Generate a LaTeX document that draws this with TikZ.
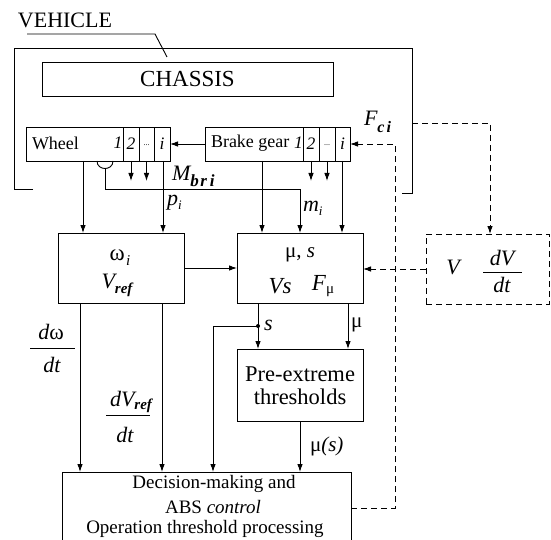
\documentclass[tikz,border=0pt]{standalone}
\usepackage{fontspec}
\setmainfont{Liberation Serif}
\usetikzlibrary{arrows.meta}
\newcommand{\fs}[1]{\fontsize{#1}{#1}\selectfont}
\begin{document}
\begin{tikzpicture}[x=1pt,y=-1pt,
  line width=0.9pt,
  blk/.style={draw, inner sep=0pt, outer sep=0pt, anchor=north west, minimum height=34pt},
  arr/.style={-{Latex[length=8pt,width=5.5pt]}},
  dsh/.style={dash pattern=on 6pt off 4pt},
  lbl/.style={inner sep=0pt, outer sep=0pt},
]
\useasboundingbox (0,0) rectangle (551,540);

% ---- vehicle outline and leader
\node[lbl, font=\fs{22}] (vehtxt) at (65,20) {VEHICLE};
\draw (27,34) -- (155,34) -- (167,57);
\coordinate (vl) at (33,189);
\coordinate (vr) at (402,193);
\draw (vl) -- (14,189) -- (14,48) -- (412,48) -- (412,193) -- (vr);

% ---- chassis
\node[blk, minimum width=291pt, font=\fs{23}] (chassis) at (42,62) {CHASSIS};

% ---- wheel
\node[blk, minimum width=97pt] (wheel) at (26,127) {};
\node[lbl, anchor=west, font=\fs{18}] (wheeltxt) at (32,143) {Wheel};
\node[lbl, font=\fs{17.5}\itshape] (wone) at (118,143) {1};
\node[blk, minimum width=16pt, font=\fs{17.5}\itshape] (w2) at (123,127) {2};
\node[blk, minimum width=15pt, font=\fs{8}] (w3) at (139,127) {\raisebox{-3pt}{...}};
\node[blk, minimum width=16pt, font=\fs{17.5}\itshape] (wi) at (154,127) {i};

% ---- brake gear
\node[blk, minimum width=98pt] (brake) at (205,127) {};
\node[lbl, anchor=west, font=\fs{18}] (braketxt) at (211,143) {Brake gear};
\node[lbl, font=\fs{17.5}\itshape] (bone) at (298.5,143) {1};
\node[blk, minimum width=16pt, font=\fs{17.5}\itshape] (b2) at (303,127) {2};
\node[blk, minimum width=16pt, font=\fs{8}] (b3) at (319,127) {\raisebox{-3pt}{...}};
\node[blk, minimum width=15pt, font=\fs{17.5}\itshape] (bi) at (335,127) {i};

% ---- main blocks
\node[blk, minimum width=126pt, minimum height=70pt] (omega) at (58,233) {};
\node[lbl, font=\fs{23}] (om1) at (120,258) {ω\hspace{1.5pt}\raisebox{-5pt}{\fs{15}\itshape i}};
\node[lbl, font=\fs{22}\itshape] (om2) at (117,285) {V\raisebox{-5pt}{\fs{15}\bfseries ref}};

\node[blk, minimum width=126pt, minimum height=70pt] (mus) at (237,233) {};
\node[lbl, font=\fs{21}] (mu1) at (300,255) {μ, \textit{s}};
\node[lbl, font=\fs{23}\itshape] (mu2) at (280,286) {Vs};
\node[lbl, font=\fs{23}\itshape] (mu3) at (323,286) {F\raisebox{-3pt}{\fs{15}\upshape μ}};

\node[blk, dsh, minimum width=123pt, minimum height=70pt] (vbox) at (426,234) {};
\node[lbl, font=\fs{22}\itshape] (vv) at (453,267) {V};
\node[lbl, font=\fs{22}\itshape] (dvn) at (502,258) {dV};
\node[lbl, font=\fs{22}\itshape] (dvd) at (502,285) {dt};
\draw (483,272) -- (522,272);

\node[blk, minimum width=126pt, minimum height=72pt] (pre) at (237,349) {};
\node[lbl, font=\fs{22.5}] (pre1) at (300,374) {Pre-extreme};
\node[lbl, font=\fs{22.5}] (pre2) at (300,397) {thresholds};

\node[blk, minimum width=289pt, minimum height=80pt] (dec) at (62,472) {};
\node[lbl, font=\fs{19}] (dec1) at (214,484) {Decision-making and};
\node[lbl, font=\fs{19}] (dec2) at (213,507) {ABS \textit{control}};
\node[lbl, font=\fs{19}] (dec3) at (205,529) {Operation threshold processing};

% ---- x positions
\coordinate (xa) at (83,0);
\coordinate (xb) at (163,0);
\coordinate (xc) at (262,0);
\coordinate (xd) at (342,0);
\coordinate (xm) at (300,0);
\coordinate (xe) at (80,0);
\coordinate (xf) at (162,0);
\coordinate (xs) at (258,0);
\coordinate (xl) at (213,0);
\coordinate (xmu) at (348,0);

% ---- connectors
\draw[arr] (brake.west |- wi.east) -- (wi.east);
\draw[arr] (wheel.south -| xa) -- (omega.north -| xa);
\draw[arr] (wi.south -| xb) -- (omega.north -| xb);
\draw[arr] (w2.south) -- ++(0,20);
\draw[arr] (w3.south) -- ++(0,20);
\draw[arr] (brake.south -| xc) -- (mus.north -| xc);
\draw[arr] (bi.south -| xd) -- (mus.north -| xd);
\draw[arr] (b2.south) -- ++(0,20);
\draw[arr] (b3.south) -- ++(0,20);

% cup and m_i line
\coordinate (cupl) at (97,161);
\coordinate (cupr) at (113,161);
\coordinate (cupb) at (105,168.5);
\draw (cupl) .. controls (97,171) and (113,171) .. (cupr);
\draw[arr] (cupb) -- (105,189) -- (300,189) -- (mus.north -| xm);

\draw[arr] (omega.east) -- (mus.west);
\draw[arr] (omega.south -| xe) -- (dec.north -| xe);
\draw[arr] (omega.south -| xf) -- (dec.north -| xf);
\draw[arr] (mus.south -| xs) -- (pre.north -| xs);
\draw[arr] (mus.south -| xmu) -- (pre.north -| xmu);
\coordinate (sdot) at (258,326);
\fill (sdot) circle[radius=2];
\draw[arr] (sdot) -- (213,326) -- (dec.north -| xl);
\draw[arr] (pre.south -| xm) -- (dec.north -| xm);

% dashed
\coordinate (vrr) at (412,123);
\coordinate (c490) at (490,123);
\draw[dsh, arr] (vrr) -- (c490) -- (c490 |- vbox.north);
\draw[dsh, arr] (vbox.west) -- (mus.east |- vbox.west);
\coordinate (f1) at (395,508);
\coordinate (f2) at (395,144);
\draw[dsh, arr] (dec.east |- f1) -- (f1) -- (f2) -- (bi.east |- f2);

% ---- labels
\node[lbl, anchor=west, font=\fs{22}\itshape] (mbri) at (172,176) {M\raisebox{-6pt}{\fs{17}\bfseries b\hspace{1.5pt}r\hspace{3pt}i}};
\node[lbl, anchor=west, font=\fs{22}\itshape] (fci) at (364,122) {F\raisebox{-7pt}{\fs{16}\bfseries c\hspace{2pt}i}};
\node[lbl, anchor=west, font=\fs{22}\itshape] (pi) at (167,203) {p\raisebox{-4pt}{\fs{13}i}};
\node[lbl, anchor=west, font=\fs{22}\itshape] (mi) at (303,208) {m\raisebox{-4pt}{\fs{13}i}};
\node[lbl, anchor=west, font=\fs{22}\itshape] (slbl) at (264,325) {s};
\node[lbl, anchor=west, font=\fs{21}] (mulbl) at (351,325) {μ};
\node[lbl, anchor=west, font=\fs{21}] (muslbl) at (310,446) {μ\textit{(s)}};

\node[lbl, font=\fs{22}\itshape] (dwn) at (51,332) {d\upshape ω};
\draw (30,348) -- (75,348);
\node[lbl, font=\fs{22}\itshape] (dwd) at (52,365) {dt};
\node[lbl, font=\fs{22}\itshape] (dvrn) at (131,402) {dV\raisebox{-3pt}{\fs{15}\bfseries ref}};
\draw (106,415) -- (150,415);
\node[lbl, font=\fs{22}\itshape] (dvrd) at (125,435) {dt};
\end{tikzpicture}
\end{document}
